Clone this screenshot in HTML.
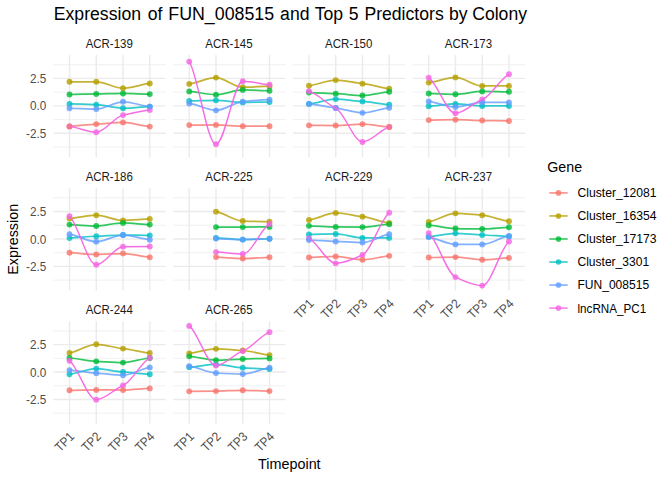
<!DOCTYPE html>
<html><head><meta charset="utf-8"><title>Expression plot</title>
<style>html,body{margin:0;padding:0;background:#fff}body{width:672px;height:480px;overflow:hidden}</style></head>
<body>
<svg width="672" height="480" viewBox="0 0 672 480" style="display:block;font-family:'Liberation Sans',sans-serif">
<rect width="672" height="480" fill="#fff"/>
<text transform="translate(53.80,20.10) scale(1.0023,1.0000)" font-size="17.6" fill="#000" text-anchor="start">Expression</text>
<text transform="translate(147.80,20.10)" font-size="17.6" fill="#000" text-anchor="start">of</text>
<text transform="translate(168.29,20.10) scale(1.0117,1.0000)" font-size="17.6" fill="#000" text-anchor="start">FUN_008515</text>
<text transform="translate(280.10,20.10)" font-size="17.6" fill="#000" text-anchor="start">and</text>
<text transform="translate(314.75,20.10)" font-size="17.6" fill="#000" text-anchor="start">Top</text>
<text transform="translate(348.85,20.10)" font-size="17.6" fill="#000" text-anchor="start">5</text>
<text transform="translate(364.40,20.10) scale(1.0013,1.0000)" font-size="17.6" fill="#000" text-anchor="start">Predictors</text>
<text transform="translate(449.00,20.10)" font-size="17.6" fill="#000" text-anchor="start">by</text>
<text transform="translate(472.20,20.10)" font-size="17.6" fill="#000" text-anchor="start">Colony</text>
<g>
<line x1="53.44" x2="165.84" y1="64.69" y2="64.69" stroke="#EBEBEB" stroke-width="0.71"/>
<line x1="53.44" x2="165.84" y1="92.13" y2="92.13" stroke="#EBEBEB" stroke-width="0.71"/>
<line x1="53.44" x2="165.84" y1="119.57" y2="119.57" stroke="#EBEBEB" stroke-width="0.71"/>
<line x1="53.44" x2="165.84" y1="147.01" y2="147.01" stroke="#EBEBEB" stroke-width="0.71"/>
<line x1="53.44" x2="165.84" y1="78.41" y2="78.41" stroke="#EBEBEB" stroke-width="1.42"/>
<line x1="53.44" x2="165.84" y1="105.85" y2="105.85" stroke="#EBEBEB" stroke-width="1.42"/>
<line x1="53.44" x2="165.84" y1="133.29" y2="133.29" stroke="#EBEBEB" stroke-width="1.42"/>
<line x1="69.50" x2="69.50" y1="55.00" y2="157.25" stroke="#EBEBEB" stroke-width="1.42"/>
<line x1="96.26" x2="96.26" y1="55.00" y2="157.25" stroke="#EBEBEB" stroke-width="1.42"/>
<line x1="123.02" x2="123.02" y1="55.00" y2="157.25" stroke="#EBEBEB" stroke-width="1.42"/>
<line x1="149.78" x2="149.78" y1="55.00" y2="157.25" stroke="#EBEBEB" stroke-width="1.42"/>
<text transform="translate(109.24,47.70) scale(0.9800,1.0900)" font-size="11.73" fill="#1A1A1A" text-anchor="middle">ACR-139</text>
<path d="M69.50 126.38 C78.42 125.99 87.34 124.41 96.26 124.08 C105.18 123.75 114.10 122.42 123.02 122.42 C131.94 122.42 140.86 125.89 149.78 126.58" fill="none" stroke="#F8766D" stroke-opacity="0.8" stroke-width="1.75" stroke-linejoin="round" stroke-linecap="butt"/>
<path d="M69.50 81.79 C78.42 81.79 87.34 81.79 96.26 81.79 C105.18 81.79 114.10 88.25 123.02 88.25 C131.94 88.25 140.86 84.26 149.78 83.46" fill="none" stroke="#B79F00" stroke-opacity="0.8" stroke-width="1.75" stroke-linejoin="round" stroke-linecap="butt"/>
<path d="M69.50 94.50 C78.42 94.40 87.34 93.96 96.26 93.88 C105.18 93.79 114.10 93.46 123.02 93.46 C131.94 93.46 140.86 93.98 149.78 94.08" fill="none" stroke="#00BA38" stroke-opacity="0.8" stroke-width="1.75" stroke-linejoin="round" stroke-linecap="butt"/>
<path d="M69.50 103.88 C78.42 104.01 87.34 104.34 96.26 104.71 C105.18 105.07 114.10 108.25 123.02 108.25 C131.94 108.25 140.86 106.86 149.78 106.58" fill="none" stroke="#00BFC4" stroke-opacity="0.8" stroke-width="1.75" stroke-linejoin="round" stroke-linecap="butt"/>
<path d="M69.50 108.25 C78.42 108.39 87.34 109.08 96.26 109.08 C105.18 109.08 114.10 101.79 123.02 101.79 C131.94 101.79 140.86 105.78 149.78 106.58" fill="none" stroke="#619CFF" stroke-opacity="0.8" stroke-width="1.75" stroke-linejoin="round" stroke-linecap="butt"/>
<circle cx="69.50" cy="81.79" r="2.95" fill="#B79F00" fill-opacity="0.8"/>
<circle cx="96.26" cy="81.79" r="2.95" fill="#B79F00" fill-opacity="0.8"/>
<circle cx="123.02" cy="88.25" r="2.95" fill="#B79F00" fill-opacity="0.8"/>
<circle cx="149.78" cy="83.46" r="2.95" fill="#B79F00" fill-opacity="0.8"/>
<circle cx="69.50" cy="94.50" r="2.95" fill="#00BA38" fill-opacity="0.8"/>
<circle cx="96.26" cy="93.88" r="2.95" fill="#00BA38" fill-opacity="0.8"/>
<circle cx="123.02" cy="93.46" r="2.95" fill="#00BA38" fill-opacity="0.8"/>
<circle cx="149.78" cy="94.08" r="2.95" fill="#00BA38" fill-opacity="0.8"/>
<circle cx="69.50" cy="103.88" r="2.95" fill="#00BFC4" fill-opacity="0.8"/>
<circle cx="96.26" cy="104.71" r="2.95" fill="#00BFC4" fill-opacity="0.8"/>
<circle cx="123.02" cy="108.25" r="2.95" fill="#00BFC4" fill-opacity="0.8"/>
<circle cx="149.78" cy="106.58" r="2.95" fill="#00BFC4" fill-opacity="0.8"/>
<circle cx="69.50" cy="126.38" r="2.95" fill="#F564E3" fill-opacity="0.8"/>
<circle cx="96.26" cy="132.21" r="2.95" fill="#F564E3" fill-opacity="0.8"/>
<circle cx="123.02" cy="115.12" r="2.95" fill="#F564E3" fill-opacity="0.8"/>
<circle cx="149.78" cy="109.92" r="2.95" fill="#F564E3" fill-opacity="0.8"/>
<circle cx="69.50" cy="126.38" r="2.95" fill="#F8766D" fill-opacity="0.8"/>
<circle cx="96.26" cy="124.08" r="2.95" fill="#F8766D" fill-opacity="0.8"/>
<circle cx="123.02" cy="122.42" r="2.95" fill="#F8766D" fill-opacity="0.8"/>
<circle cx="149.78" cy="126.58" r="2.95" fill="#F8766D" fill-opacity="0.8"/>
<circle cx="69.50" cy="108.25" r="2.95" fill="#619CFF" fill-opacity="0.8"/>
<circle cx="96.26" cy="109.08" r="2.95" fill="#619CFF" fill-opacity="0.8"/>
<circle cx="123.02" cy="101.79" r="2.95" fill="#619CFF" fill-opacity="0.8"/>
<circle cx="149.78" cy="106.58" r="2.95" fill="#619CFF" fill-opacity="0.8"/>
<path d="M69.50 126.38 C78.42 127.35 87.34 132.21 96.26 132.21 C105.18 132.21 114.10 116.98 123.02 115.12 C131.94 113.27 140.86 110.78 149.78 109.92" fill="none" stroke="#F564E3" stroke-opacity="0.95" stroke-width="1.42" stroke-linejoin="round" stroke-linecap="butt"/>
<text transform="translate(46.30,83.01) scale(1.0000,1.1200)" font-size="11.73" fill="#4D4D4D" text-anchor="end">2.5</text>
<text transform="translate(46.30,110.45) scale(1.0000,1.1200)" font-size="11.73" fill="#4D4D4D" text-anchor="end">0.0</text>
<text transform="translate(46.30,137.89) scale(1.0000,1.1200)" font-size="11.73" fill="#4D4D4D" text-anchor="end">-2.5</text>
</g>
<g>
<line x1="173.17" x2="285.57" y1="64.69" y2="64.69" stroke="#EBEBEB" stroke-width="0.71"/>
<line x1="173.17" x2="285.57" y1="92.13" y2="92.13" stroke="#EBEBEB" stroke-width="0.71"/>
<line x1="173.17" x2="285.57" y1="119.57" y2="119.57" stroke="#EBEBEB" stroke-width="0.71"/>
<line x1="173.17" x2="285.57" y1="147.01" y2="147.01" stroke="#EBEBEB" stroke-width="0.71"/>
<line x1="173.17" x2="285.57" y1="78.41" y2="78.41" stroke="#EBEBEB" stroke-width="1.42"/>
<line x1="173.17" x2="285.57" y1="105.85" y2="105.85" stroke="#EBEBEB" stroke-width="1.42"/>
<line x1="173.17" x2="285.57" y1="133.29" y2="133.29" stroke="#EBEBEB" stroke-width="1.42"/>
<line x1="189.23" x2="189.23" y1="55.00" y2="157.25" stroke="#EBEBEB" stroke-width="1.42"/>
<line x1="215.99" x2="215.99" y1="55.00" y2="157.25" stroke="#EBEBEB" stroke-width="1.42"/>
<line x1="242.75" x2="242.75" y1="55.00" y2="157.25" stroke="#EBEBEB" stroke-width="1.42"/>
<line x1="269.51" x2="269.51" y1="55.00" y2="157.25" stroke="#EBEBEB" stroke-width="1.42"/>
<text transform="translate(228.97,47.70) scale(0.9800,1.0900)" font-size="11.73" fill="#1A1A1A" text-anchor="middle">ACR-145</text>
<path d="M189.23 125.12 C198.15 125.09 207.07 124.92 215.99 124.92 C224.91 124.92 233.83 126.17 242.75 126.17 C251.67 126.17 260.59 126.17 269.51 126.17" fill="none" stroke="#F8766D" stroke-opacity="0.8" stroke-width="1.75" stroke-linejoin="round" stroke-linecap="butt"/>
<path d="M189.23 83.88 C198.15 82.83 207.07 77.62 215.99 77.62 C224.91 77.62 233.83 87.21 242.75 87.21 C251.67 87.21 260.59 86.34 269.51 86.17" fill="none" stroke="#B79F00" stroke-opacity="0.8" stroke-width="1.75" stroke-linejoin="round" stroke-linecap="butt"/>
<path d="M189.23 91.38 C198.15 91.93 207.07 94.71 215.99 94.71 C224.91 94.71 233.83 89.92 242.75 89.92 C251.67 89.92 260.59 90.61 269.51 90.75" fill="none" stroke="#00BA38" stroke-opacity="0.8" stroke-width="1.75" stroke-linejoin="round" stroke-linecap="butt"/>
<path d="M189.23 100.96 C198.15 100.85 207.07 100.33 215.99 100.33 C224.91 100.33 233.83 102.42 242.75 102.42 C251.67 102.42 260.59 102.07 269.51 102.00" fill="none" stroke="#00BFC4" stroke-opacity="0.8" stroke-width="1.75" stroke-linejoin="round" stroke-linecap="butt"/>
<path d="M189.23 103.46 C198.15 104.60 207.07 110.33 215.99 110.33 C224.91 110.33 233.83 102.47 242.75 101.58 C251.67 100.70 260.59 100.02 269.51 99.71" fill="none" stroke="#619CFF" stroke-opacity="0.8" stroke-width="1.75" stroke-linejoin="round" stroke-linecap="butt"/>
<circle cx="189.23" cy="83.88" r="2.95" fill="#B79F00" fill-opacity="0.8"/>
<circle cx="215.99" cy="77.62" r="2.95" fill="#B79F00" fill-opacity="0.8"/>
<circle cx="242.75" cy="87.21" r="2.95" fill="#B79F00" fill-opacity="0.8"/>
<circle cx="269.51" cy="86.17" r="2.95" fill="#B79F00" fill-opacity="0.8"/>
<circle cx="189.23" cy="91.38" r="2.95" fill="#00BA38" fill-opacity="0.8"/>
<circle cx="215.99" cy="94.71" r="2.95" fill="#00BA38" fill-opacity="0.8"/>
<circle cx="242.75" cy="89.92" r="2.95" fill="#00BA38" fill-opacity="0.8"/>
<circle cx="269.51" cy="90.75" r="2.95" fill="#00BA38" fill-opacity="0.8"/>
<circle cx="189.23" cy="100.96" r="2.95" fill="#00BFC4" fill-opacity="0.8"/>
<circle cx="215.99" cy="100.33" r="2.95" fill="#00BFC4" fill-opacity="0.8"/>
<circle cx="242.75" cy="102.42" r="2.95" fill="#00BFC4" fill-opacity="0.8"/>
<circle cx="269.51" cy="102.00" r="2.95" fill="#00BFC4" fill-opacity="0.8"/>
<circle cx="189.23" cy="61.58" r="2.95" fill="#F564E3" fill-opacity="0.8"/>
<circle cx="215.99" cy="144.29" r="2.95" fill="#F564E3" fill-opacity="0.8"/>
<circle cx="242.75" cy="81.17" r="2.95" fill="#F564E3" fill-opacity="0.8"/>
<circle cx="269.51" cy="84.71" r="2.95" fill="#F564E3" fill-opacity="0.8"/>
<circle cx="189.23" cy="125.12" r="2.95" fill="#F8766D" fill-opacity="0.8"/>
<circle cx="215.99" cy="124.92" r="2.95" fill="#F8766D" fill-opacity="0.8"/>
<circle cx="242.75" cy="126.17" r="2.95" fill="#F8766D" fill-opacity="0.8"/>
<circle cx="269.51" cy="126.17" r="2.95" fill="#F8766D" fill-opacity="0.8"/>
<circle cx="189.23" cy="103.46" r="2.95" fill="#619CFF" fill-opacity="0.8"/>
<circle cx="215.99" cy="110.33" r="2.95" fill="#619CFF" fill-opacity="0.8"/>
<circle cx="242.75" cy="101.58" r="2.95" fill="#619CFF" fill-opacity="0.8"/>
<circle cx="269.51" cy="99.71" r="2.95" fill="#619CFF" fill-opacity="0.8"/>
<path d="M189.23 61.58 C198.15 75.37 207.07 144.29 215.99 144.29 C224.91 144.29 233.83 81.17 242.75 81.17 C251.67 81.17 260.59 84.12 269.51 84.71" fill="none" stroke="#F564E3" stroke-opacity="0.95" stroke-width="1.42" stroke-linejoin="round" stroke-linecap="butt"/>
</g>
<g>
<line x1="292.90" x2="405.30" y1="64.69" y2="64.69" stroke="#EBEBEB" stroke-width="0.71"/>
<line x1="292.90" x2="405.30" y1="92.13" y2="92.13" stroke="#EBEBEB" stroke-width="0.71"/>
<line x1="292.90" x2="405.30" y1="119.57" y2="119.57" stroke="#EBEBEB" stroke-width="0.71"/>
<line x1="292.90" x2="405.30" y1="147.01" y2="147.01" stroke="#EBEBEB" stroke-width="0.71"/>
<line x1="292.90" x2="405.30" y1="78.41" y2="78.41" stroke="#EBEBEB" stroke-width="1.42"/>
<line x1="292.90" x2="405.30" y1="105.85" y2="105.85" stroke="#EBEBEB" stroke-width="1.42"/>
<line x1="292.90" x2="405.30" y1="133.29" y2="133.29" stroke="#EBEBEB" stroke-width="1.42"/>
<line x1="308.96" x2="308.96" y1="55.00" y2="157.25" stroke="#EBEBEB" stroke-width="1.42"/>
<line x1="335.72" x2="335.72" y1="55.00" y2="157.25" stroke="#EBEBEB" stroke-width="1.42"/>
<line x1="362.48" x2="362.48" y1="55.00" y2="157.25" stroke="#EBEBEB" stroke-width="1.42"/>
<line x1="389.24" x2="389.24" y1="55.00" y2="157.25" stroke="#EBEBEB" stroke-width="1.42"/>
<text transform="translate(348.70,47.70) scale(0.9800,1.0900)" font-size="11.73" fill="#1A1A1A" text-anchor="middle">ACR-150</text>
<path d="M308.96 125.33 C317.88 125.37 326.80 125.54 335.72 125.54 C344.64 125.54 353.56 124.08 362.48 124.08 C371.40 124.08 380.32 126.51 389.24 127.00" fill="none" stroke="#F8766D" stroke-opacity="0.8" stroke-width="1.75" stroke-linejoin="round" stroke-linecap="butt"/>
<path d="M308.96 85.75 C317.88 84.81 326.80 80.12 335.72 80.12 C344.64 80.12 353.56 82.95 362.48 83.67 C371.40 84.38 380.32 87.83 389.24 88.67" fill="none" stroke="#B79F00" stroke-opacity="0.8" stroke-width="1.75" stroke-linejoin="round" stroke-linecap="butt"/>
<path d="M308.96 92.62 C317.88 92.80 326.80 93.42 335.72 93.67 C344.64 93.91 353.56 95.54 362.48 95.54 C371.40 95.54 380.32 92.42 389.24 91.79" fill="none" stroke="#00BA38" stroke-opacity="0.8" stroke-width="1.75" stroke-linejoin="round" stroke-linecap="butt"/>
<path d="M308.96 103.88 C317.88 103.08 326.80 99.08 335.72 99.08 C344.64 99.08 353.56 100.91 362.48 101.38 C371.40 101.84 380.32 104.15 389.24 104.71" fill="none" stroke="#00BFC4" stroke-opacity="0.8" stroke-width="1.75" stroke-linejoin="round" stroke-linecap="butt"/>
<path d="M308.96 103.88 C317.88 104.57 326.80 107.30 335.72 108.04 C344.64 108.79 353.56 112.83 362.48 112.83 C371.40 112.83 380.32 108.67 389.24 107.83" fill="none" stroke="#619CFF" stroke-opacity="0.8" stroke-width="1.75" stroke-linejoin="round" stroke-linecap="butt"/>
<circle cx="308.96" cy="85.75" r="2.95" fill="#B79F00" fill-opacity="0.8"/>
<circle cx="335.72" cy="80.12" r="2.95" fill="#B79F00" fill-opacity="0.8"/>
<circle cx="362.48" cy="83.67" r="2.95" fill="#B79F00" fill-opacity="0.8"/>
<circle cx="389.24" cy="88.67" r="2.95" fill="#B79F00" fill-opacity="0.8"/>
<circle cx="308.96" cy="92.62" r="2.95" fill="#00BA38" fill-opacity="0.8"/>
<circle cx="335.72" cy="93.67" r="2.95" fill="#00BA38" fill-opacity="0.8"/>
<circle cx="362.48" cy="95.54" r="2.95" fill="#00BA38" fill-opacity="0.8"/>
<circle cx="389.24" cy="91.79" r="2.95" fill="#00BA38" fill-opacity="0.8"/>
<circle cx="308.96" cy="103.88" r="2.95" fill="#00BFC4" fill-opacity="0.8"/>
<circle cx="335.72" cy="99.08" r="2.95" fill="#00BFC4" fill-opacity="0.8"/>
<circle cx="362.48" cy="101.38" r="2.95" fill="#00BFC4" fill-opacity="0.8"/>
<circle cx="389.24" cy="104.71" r="2.95" fill="#00BFC4" fill-opacity="0.8"/>
<circle cx="308.96" cy="91.17" r="2.95" fill="#F564E3" fill-opacity="0.8"/>
<circle cx="335.72" cy="108.04" r="2.95" fill="#F564E3" fill-opacity="0.8"/>
<circle cx="362.48" cy="142.00" r="2.95" fill="#F564E3" fill-opacity="0.8"/>
<circle cx="389.24" cy="127.00" r="2.95" fill="#F564E3" fill-opacity="0.8"/>
<circle cx="308.96" cy="125.33" r="2.95" fill="#F8766D" fill-opacity="0.8"/>
<circle cx="335.72" cy="125.54" r="2.95" fill="#F8766D" fill-opacity="0.8"/>
<circle cx="362.48" cy="124.08" r="2.95" fill="#F8766D" fill-opacity="0.8"/>
<circle cx="389.24" cy="127.00" r="2.95" fill="#F8766D" fill-opacity="0.8"/>
<circle cx="308.96" cy="103.88" r="2.95" fill="#619CFF" fill-opacity="0.8"/>
<circle cx="335.72" cy="108.04" r="2.95" fill="#619CFF" fill-opacity="0.8"/>
<circle cx="362.48" cy="112.83" r="2.95" fill="#619CFF" fill-opacity="0.8"/>
<circle cx="389.24" cy="107.83" r="2.95" fill="#619CFF" fill-opacity="0.8"/>
<path d="M308.96 91.17 C317.88 93.98 326.80 103.81 335.72 108.04 C344.64 112.28 353.56 142.00 362.48 142.00 C371.40 142.00 380.32 129.50 389.24 127.00" fill="none" stroke="#F564E3" stroke-opacity="0.95" stroke-width="1.42" stroke-linejoin="round" stroke-linecap="butt"/>
</g>
<g>
<line x1="412.63" x2="525.03" y1="64.69" y2="64.69" stroke="#EBEBEB" stroke-width="0.71"/>
<line x1="412.63" x2="525.03" y1="92.13" y2="92.13" stroke="#EBEBEB" stroke-width="0.71"/>
<line x1="412.63" x2="525.03" y1="119.57" y2="119.57" stroke="#EBEBEB" stroke-width="0.71"/>
<line x1="412.63" x2="525.03" y1="147.01" y2="147.01" stroke="#EBEBEB" stroke-width="0.71"/>
<line x1="412.63" x2="525.03" y1="78.41" y2="78.41" stroke="#EBEBEB" stroke-width="1.42"/>
<line x1="412.63" x2="525.03" y1="105.85" y2="105.85" stroke="#EBEBEB" stroke-width="1.42"/>
<line x1="412.63" x2="525.03" y1="133.29" y2="133.29" stroke="#EBEBEB" stroke-width="1.42"/>
<line x1="428.69" x2="428.69" y1="55.00" y2="157.25" stroke="#EBEBEB" stroke-width="1.42"/>
<line x1="455.45" x2="455.45" y1="55.00" y2="157.25" stroke="#EBEBEB" stroke-width="1.42"/>
<line x1="482.21" x2="482.21" y1="55.00" y2="157.25" stroke="#EBEBEB" stroke-width="1.42"/>
<line x1="508.97" x2="508.97" y1="55.00" y2="157.25" stroke="#EBEBEB" stroke-width="1.42"/>
<text transform="translate(468.43,47.70) scale(0.9800,1.0900)" font-size="11.73" fill="#1A1A1A" text-anchor="middle">ACR-173</text>
<path d="M428.69 120.12 C437.61 120.06 446.53 119.71 455.45 119.71 C464.37 119.71 473.29 120.44 482.21 120.54 C491.13 120.65 500.05 120.89 508.97 120.96" fill="none" stroke="#F8766D" stroke-opacity="0.8" stroke-width="1.75" stroke-linejoin="round" stroke-linecap="butt"/>
<path d="M428.69 82.62 C437.61 81.76 446.53 77.42 455.45 77.42 C464.37 77.42 473.29 85.96 482.21 85.96 C491.13 85.96 500.05 85.96 508.97 85.96" fill="none" stroke="#B79F00" stroke-opacity="0.8" stroke-width="1.75" stroke-linejoin="round" stroke-linecap="butt"/>
<path d="M428.69 93.46 C437.61 93.60 446.53 94.29 455.45 94.29 C464.37 94.29 473.29 91.38 482.21 91.38 C491.13 91.38 500.05 91.72 508.97 91.79" fill="none" stroke="#00BA38" stroke-opacity="0.8" stroke-width="1.75" stroke-linejoin="round" stroke-linecap="butt"/>
<path d="M428.69 106.17 C437.61 105.78 446.53 103.88 455.45 103.88 C464.37 103.88 473.29 105.96 482.21 105.96 C491.13 105.96 500.05 105.96 508.97 105.96" fill="none" stroke="#00BFC4" stroke-opacity="0.8" stroke-width="1.75" stroke-linejoin="round" stroke-linecap="butt"/>
<path d="M428.69 101.38 C437.61 102.31 446.53 107.00 455.45 107.00 C464.37 107.00 473.29 102.42 482.21 102.42 C491.13 102.42 500.05 102.42 508.97 102.42" fill="none" stroke="#619CFF" stroke-opacity="0.8" stroke-width="1.75" stroke-linejoin="round" stroke-linecap="butt"/>
<circle cx="428.69" cy="82.62" r="2.95" fill="#B79F00" fill-opacity="0.8"/>
<circle cx="455.45" cy="77.42" r="2.95" fill="#B79F00" fill-opacity="0.8"/>
<circle cx="482.21" cy="85.96" r="2.95" fill="#B79F00" fill-opacity="0.8"/>
<circle cx="508.97" cy="85.96" r="2.95" fill="#B79F00" fill-opacity="0.8"/>
<circle cx="428.69" cy="93.46" r="2.95" fill="#00BA38" fill-opacity="0.8"/>
<circle cx="455.45" cy="94.29" r="2.95" fill="#00BA38" fill-opacity="0.8"/>
<circle cx="482.21" cy="91.38" r="2.95" fill="#00BA38" fill-opacity="0.8"/>
<circle cx="508.97" cy="91.79" r="2.95" fill="#00BA38" fill-opacity="0.8"/>
<circle cx="428.69" cy="106.17" r="2.95" fill="#00BFC4" fill-opacity="0.8"/>
<circle cx="455.45" cy="103.88" r="2.95" fill="#00BFC4" fill-opacity="0.8"/>
<circle cx="482.21" cy="105.96" r="2.95" fill="#00BFC4" fill-opacity="0.8"/>
<circle cx="508.97" cy="105.96" r="2.95" fill="#00BFC4" fill-opacity="0.8"/>
<circle cx="428.69" cy="77.62" r="2.95" fill="#F564E3" fill-opacity="0.8"/>
<circle cx="455.45" cy="113.25" r="2.95" fill="#F564E3" fill-opacity="0.8"/>
<circle cx="482.21" cy="99.50" r="2.95" fill="#F564E3" fill-opacity="0.8"/>
<circle cx="508.97" cy="74.29" r="2.95" fill="#F564E3" fill-opacity="0.8"/>
<circle cx="428.69" cy="120.12" r="2.95" fill="#F8766D" fill-opacity="0.8"/>
<circle cx="455.45" cy="119.71" r="2.95" fill="#F8766D" fill-opacity="0.8"/>
<circle cx="482.21" cy="120.54" r="2.95" fill="#F8766D" fill-opacity="0.8"/>
<circle cx="508.97" cy="120.96" r="2.95" fill="#F8766D" fill-opacity="0.8"/>
<circle cx="428.69" cy="101.38" r="2.95" fill="#619CFF" fill-opacity="0.8"/>
<circle cx="455.45" cy="107.00" r="2.95" fill="#619CFF" fill-opacity="0.8"/>
<circle cx="482.21" cy="102.42" r="2.95" fill="#619CFF" fill-opacity="0.8"/>
<circle cx="508.97" cy="102.42" r="2.95" fill="#619CFF" fill-opacity="0.8"/>
<path d="M428.69 77.62 C437.61 83.56 446.53 113.25 455.45 113.25 C464.37 113.25 473.29 102.75 482.21 99.50 C491.13 96.25 500.05 78.49 508.97 74.29" fill="none" stroke="#F564E3" stroke-opacity="0.95" stroke-width="1.42" stroke-linejoin="round" stroke-linecap="butt"/>
</g>
<g>
<line x1="53.44" x2="165.84" y1="197.79" y2="197.79" stroke="#EBEBEB" stroke-width="0.71"/>
<line x1="53.44" x2="165.84" y1="225.23" y2="225.23" stroke="#EBEBEB" stroke-width="0.71"/>
<line x1="53.44" x2="165.84" y1="252.67" y2="252.67" stroke="#EBEBEB" stroke-width="0.71"/>
<line x1="53.44" x2="165.84" y1="280.11" y2="280.11" stroke="#EBEBEB" stroke-width="0.71"/>
<line x1="53.44" x2="165.84" y1="211.51" y2="211.51" stroke="#EBEBEB" stroke-width="1.42"/>
<line x1="53.44" x2="165.84" y1="238.95" y2="238.95" stroke="#EBEBEB" stroke-width="1.42"/>
<line x1="53.44" x2="165.84" y1="266.39" y2="266.39" stroke="#EBEBEB" stroke-width="1.42"/>
<line x1="69.50" x2="69.50" y1="188.25" y2="290.50" stroke="#EBEBEB" stroke-width="1.42"/>
<line x1="96.26" x2="96.26" y1="188.25" y2="290.50" stroke="#EBEBEB" stroke-width="1.42"/>
<line x1="123.02" x2="123.02" y1="188.25" y2="290.50" stroke="#EBEBEB" stroke-width="1.42"/>
<line x1="149.78" x2="149.78" y1="188.25" y2="290.50" stroke="#EBEBEB" stroke-width="1.42"/>
<text transform="translate(109.24,180.95) scale(0.9800,1.0900)" font-size="11.73" fill="#1A1A1A" text-anchor="middle">ACR-186</text>
<path d="M69.50 252.71 C78.42 252.99 87.34 254.38 96.26 254.38 C105.18 254.38 114.10 253.54 123.02 253.54 C131.94 253.54 140.86 256.67 149.78 257.29" fill="none" stroke="#F8766D" stroke-opacity="0.8" stroke-width="1.75" stroke-linejoin="round" stroke-linecap="butt"/>
<path d="M69.50 218.54 C78.42 217.99 87.34 215.21 96.26 215.21 C105.18 215.21 114.10 220.42 123.02 220.42 C131.94 220.42 140.86 219.20 149.78 218.96" fill="none" stroke="#B79F00" stroke-opacity="0.8" stroke-width="1.75" stroke-linejoin="round" stroke-linecap="butt"/>
<path d="M69.50 224.58 C78.42 224.83 87.34 226.04 96.26 226.04 C105.18 226.04 114.10 222.92 123.02 222.92 C131.94 222.92 140.86 224.31 149.78 224.58" fill="none" stroke="#00BA38" stroke-opacity="0.8" stroke-width="1.75" stroke-linejoin="round" stroke-linecap="butt"/>
<path d="M69.50 238.12 C78.42 237.81 87.34 236.51 96.26 236.25 C105.18 235.99 114.10 235.00 123.02 235.00 C131.94 235.00 140.86 235.35 149.78 235.42" fill="none" stroke="#00BFC4" stroke-opacity="0.8" stroke-width="1.75" stroke-linejoin="round" stroke-linecap="butt"/>
<path d="M69.50 234.17 C78.42 235.42 87.34 241.67 96.26 241.67 C105.18 241.67 114.10 235.00 123.02 235.00 C131.94 235.00 140.86 238.99 149.78 239.79" fill="none" stroke="#619CFF" stroke-opacity="0.8" stroke-width="1.75" stroke-linejoin="round" stroke-linecap="butt"/>
<circle cx="69.50" cy="218.54" r="2.95" fill="#B79F00" fill-opacity="0.8"/>
<circle cx="96.26" cy="215.21" r="2.95" fill="#B79F00" fill-opacity="0.8"/>
<circle cx="123.02" cy="220.42" r="2.95" fill="#B79F00" fill-opacity="0.8"/>
<circle cx="149.78" cy="218.96" r="2.95" fill="#B79F00" fill-opacity="0.8"/>
<circle cx="69.50" cy="224.58" r="2.95" fill="#00BA38" fill-opacity="0.8"/>
<circle cx="96.26" cy="226.04" r="2.95" fill="#00BA38" fill-opacity="0.8"/>
<circle cx="123.02" cy="222.92" r="2.95" fill="#00BA38" fill-opacity="0.8"/>
<circle cx="149.78" cy="224.58" r="2.95" fill="#00BA38" fill-opacity="0.8"/>
<circle cx="69.50" cy="238.12" r="2.95" fill="#00BFC4" fill-opacity="0.8"/>
<circle cx="96.26" cy="236.25" r="2.95" fill="#00BFC4" fill-opacity="0.8"/>
<circle cx="123.02" cy="235.00" r="2.95" fill="#00BFC4" fill-opacity="0.8"/>
<circle cx="149.78" cy="235.42" r="2.95" fill="#00BFC4" fill-opacity="0.8"/>
<circle cx="69.50" cy="216.25" r="2.95" fill="#F564E3" fill-opacity="0.8"/>
<circle cx="96.26" cy="264.79" r="2.95" fill="#F564E3" fill-opacity="0.8"/>
<circle cx="123.02" cy="246.67" r="2.95" fill="#F564E3" fill-opacity="0.8"/>
<circle cx="149.78" cy="246.46" r="2.95" fill="#F564E3" fill-opacity="0.8"/>
<circle cx="69.50" cy="252.71" r="2.95" fill="#F8766D" fill-opacity="0.8"/>
<circle cx="96.26" cy="254.38" r="2.95" fill="#F8766D" fill-opacity="0.8"/>
<circle cx="123.02" cy="253.54" r="2.95" fill="#F8766D" fill-opacity="0.8"/>
<circle cx="149.78" cy="257.29" r="2.95" fill="#F8766D" fill-opacity="0.8"/>
<circle cx="69.50" cy="234.17" r="2.95" fill="#619CFF" fill-opacity="0.8"/>
<circle cx="96.26" cy="241.67" r="2.95" fill="#619CFF" fill-opacity="0.8"/>
<circle cx="123.02" cy="235.00" r="2.95" fill="#619CFF" fill-opacity="0.8"/>
<circle cx="149.78" cy="239.79" r="2.95" fill="#619CFF" fill-opacity="0.8"/>
<path d="M69.50 216.25 C78.42 224.34 87.34 264.79 96.26 264.79 C105.18 264.79 114.10 246.77 123.02 246.67 C131.94 246.56 140.86 246.46 149.78 246.46" fill="none" stroke="#F564E3" stroke-opacity="0.95" stroke-width="1.42" stroke-linejoin="round" stroke-linecap="butt"/>
<text transform="translate(46.30,216.11) scale(1.0000,1.1200)" font-size="11.73" fill="#4D4D4D" text-anchor="end">2.5</text>
<text transform="translate(46.30,243.55) scale(1.0000,1.1200)" font-size="11.73" fill="#4D4D4D" text-anchor="end">0.0</text>
<text transform="translate(46.30,270.99) scale(1.0000,1.1200)" font-size="11.73" fill="#4D4D4D" text-anchor="end">-2.5</text>
</g>
<g>
<line x1="173.17" x2="285.57" y1="197.79" y2="197.79" stroke="#EBEBEB" stroke-width="0.71"/>
<line x1="173.17" x2="285.57" y1="225.23" y2="225.23" stroke="#EBEBEB" stroke-width="0.71"/>
<line x1="173.17" x2="285.57" y1="252.67" y2="252.67" stroke="#EBEBEB" stroke-width="0.71"/>
<line x1="173.17" x2="285.57" y1="280.11" y2="280.11" stroke="#EBEBEB" stroke-width="0.71"/>
<line x1="173.17" x2="285.57" y1="211.51" y2="211.51" stroke="#EBEBEB" stroke-width="1.42"/>
<line x1="173.17" x2="285.57" y1="238.95" y2="238.95" stroke="#EBEBEB" stroke-width="1.42"/>
<line x1="173.17" x2="285.57" y1="266.39" y2="266.39" stroke="#EBEBEB" stroke-width="1.42"/>
<line x1="189.23" x2="189.23" y1="188.25" y2="290.50" stroke="#EBEBEB" stroke-width="1.42"/>
<line x1="215.99" x2="215.99" y1="188.25" y2="290.50" stroke="#EBEBEB" stroke-width="1.42"/>
<line x1="242.75" x2="242.75" y1="188.25" y2="290.50" stroke="#EBEBEB" stroke-width="1.42"/>
<line x1="269.51" x2="269.51" y1="188.25" y2="290.50" stroke="#EBEBEB" stroke-width="1.42"/>
<text transform="translate(228.97,180.95) scale(0.9800,1.0900)" font-size="11.73" fill="#1A1A1A" text-anchor="middle">ACR-225</text>
<path d="M215.99 257.08 C224.91 257.33 233.83 258.54 242.75 258.54 C251.67 258.54 260.59 257.50 269.51 257.29" fill="none" stroke="#F8766D" stroke-opacity="0.8" stroke-width="1.75" stroke-linejoin="round" stroke-linecap="butt"/>
<path d="M215.99 211.67 C224.91 213.23 233.83 220.73 242.75 221.04 C251.67 221.35 260.59 221.63 269.51 221.67" fill="none" stroke="#B79F00" stroke-opacity="0.8" stroke-width="1.75" stroke-linejoin="round" stroke-linecap="butt"/>
<path d="M215.99 227.08 C224.91 227.08 233.83 227.08 242.75 227.08 C251.67 227.08 260.59 226.91 269.51 226.88" fill="none" stroke="#00BA38" stroke-opacity="0.8" stroke-width="1.75" stroke-linejoin="round" stroke-linecap="butt"/>
<path d="M215.99 237.92 C224.91 238.19 233.83 239.58 242.75 239.58 C251.67 239.58 260.59 238.89 269.51 238.75" fill="none" stroke="#00BFC4" stroke-opacity="0.8" stroke-width="1.75" stroke-linejoin="round" stroke-linecap="butt"/>
<path d="M215.99 238.54 C224.91 238.72 233.83 239.58 242.75 239.58 C251.67 239.58 260.59 238.89 269.51 238.75" fill="none" stroke="#619CFF" stroke-opacity="0.8" stroke-width="1.75" stroke-linejoin="round" stroke-linecap="butt"/>
<circle cx="215.99" cy="211.67" r="2.95" fill="#B79F00" fill-opacity="0.8"/>
<circle cx="242.75" cy="221.04" r="2.95" fill="#B79F00" fill-opacity="0.8"/>
<circle cx="269.51" cy="221.67" r="2.95" fill="#B79F00" fill-opacity="0.8"/>
<circle cx="215.99" cy="227.08" r="2.95" fill="#00BA38" fill-opacity="0.8"/>
<circle cx="242.75" cy="227.08" r="2.95" fill="#00BA38" fill-opacity="0.8"/>
<circle cx="269.51" cy="226.88" r="2.95" fill="#00BA38" fill-opacity="0.8"/>
<circle cx="215.99" cy="237.92" r="2.95" fill="#00BFC4" fill-opacity="0.8"/>
<circle cx="242.75" cy="239.58" r="2.95" fill="#00BFC4" fill-opacity="0.8"/>
<circle cx="269.51" cy="238.75" r="2.95" fill="#00BFC4" fill-opacity="0.8"/>
<circle cx="215.99" cy="252.08" r="2.95" fill="#F564E3" fill-opacity="0.8"/>
<circle cx="242.75" cy="253.96" r="2.95" fill="#F564E3" fill-opacity="0.8"/>
<circle cx="269.51" cy="223.96" r="2.95" fill="#F564E3" fill-opacity="0.8"/>
<circle cx="215.99" cy="257.08" r="2.95" fill="#F8766D" fill-opacity="0.8"/>
<circle cx="242.75" cy="258.54" r="2.95" fill="#F8766D" fill-opacity="0.8"/>
<circle cx="269.51" cy="257.29" r="2.95" fill="#F8766D" fill-opacity="0.8"/>
<circle cx="215.99" cy="238.54" r="2.95" fill="#619CFF" fill-opacity="0.8"/>
<circle cx="242.75" cy="239.58" r="2.95" fill="#619CFF" fill-opacity="0.8"/>
<circle cx="269.51" cy="238.75" r="2.95" fill="#619CFF" fill-opacity="0.8"/>
<path d="M215.99 252.08 C224.91 252.40 233.83 253.96 242.75 253.96 C251.67 253.96 260.59 228.96 269.51 223.96" fill="none" stroke="#F564E3" stroke-opacity="0.95" stroke-width="1.42" stroke-linejoin="round" stroke-linecap="butt"/>
</g>
<g>
<line x1="292.90" x2="405.30" y1="197.79" y2="197.79" stroke="#EBEBEB" stroke-width="0.71"/>
<line x1="292.90" x2="405.30" y1="225.23" y2="225.23" stroke="#EBEBEB" stroke-width="0.71"/>
<line x1="292.90" x2="405.30" y1="252.67" y2="252.67" stroke="#EBEBEB" stroke-width="0.71"/>
<line x1="292.90" x2="405.30" y1="280.11" y2="280.11" stroke="#EBEBEB" stroke-width="0.71"/>
<line x1="292.90" x2="405.30" y1="211.51" y2="211.51" stroke="#EBEBEB" stroke-width="1.42"/>
<line x1="292.90" x2="405.30" y1="238.95" y2="238.95" stroke="#EBEBEB" stroke-width="1.42"/>
<line x1="292.90" x2="405.30" y1="266.39" y2="266.39" stroke="#EBEBEB" stroke-width="1.42"/>
<line x1="308.96" x2="308.96" y1="188.25" y2="290.50" stroke="#EBEBEB" stroke-width="1.42"/>
<line x1="335.72" x2="335.72" y1="188.25" y2="290.50" stroke="#EBEBEB" stroke-width="1.42"/>
<line x1="362.48" x2="362.48" y1="188.25" y2="290.50" stroke="#EBEBEB" stroke-width="1.42"/>
<line x1="389.24" x2="389.24" y1="188.25" y2="290.50" stroke="#EBEBEB" stroke-width="1.42"/>
<text transform="translate(348.70,180.95) scale(0.9800,1.0900)" font-size="11.73" fill="#1A1A1A" text-anchor="middle">ACR-229</text>
<path d="M308.96 257.50 C317.88 257.33 326.80 256.46 335.72 256.46 C344.64 256.46 353.56 259.79 362.48 259.79 C371.40 259.79 380.32 256.49 389.24 255.83" fill="none" stroke="#F8766D" stroke-opacity="0.8" stroke-width="1.75" stroke-linejoin="round" stroke-linecap="butt"/>
<path d="M308.96 220.00 C317.88 218.82 326.80 212.92 335.72 212.92 C344.64 212.92 353.56 215.83 362.48 216.67 C371.40 217.50 380.32 221.88 389.24 222.92" fill="none" stroke="#B79F00" stroke-opacity="0.8" stroke-width="1.75" stroke-linejoin="round" stroke-linecap="butt"/>
<path d="M308.96 225.83 C317.88 226.01 326.80 226.77 335.72 226.88 C344.64 226.98 353.56 227.08 362.48 227.08 C371.40 227.08 380.32 224.65 389.24 224.17" fill="none" stroke="#00BA38" stroke-opacity="0.8" stroke-width="1.75" stroke-linejoin="round" stroke-linecap="butt"/>
<path d="M308.96 234.38 C317.88 234.31 326.80 233.96 335.72 233.96 C344.64 233.96 353.56 237.92 362.48 237.92 C371.40 237.92 380.32 237.92 389.24 237.92" fill="none" stroke="#00BFC4" stroke-opacity="0.8" stroke-width="1.75" stroke-linejoin="round" stroke-linecap="butt"/>
<path d="M308.96 240.00 C317.88 240.24 326.80 241.25 335.72 241.46 C344.64 241.67 353.56 242.50 362.48 242.50 C371.40 242.50 380.32 235.56 389.24 234.17" fill="none" stroke="#619CFF" stroke-opacity="0.8" stroke-width="1.75" stroke-linejoin="round" stroke-linecap="butt"/>
<circle cx="308.96" cy="220.00" r="2.95" fill="#B79F00" fill-opacity="0.8"/>
<circle cx="335.72" cy="212.92" r="2.95" fill="#B79F00" fill-opacity="0.8"/>
<circle cx="362.48" cy="216.67" r="2.95" fill="#B79F00" fill-opacity="0.8"/>
<circle cx="389.24" cy="222.92" r="2.95" fill="#B79F00" fill-opacity="0.8"/>
<circle cx="308.96" cy="225.83" r="2.95" fill="#00BA38" fill-opacity="0.8"/>
<circle cx="335.72" cy="226.88" r="2.95" fill="#00BA38" fill-opacity="0.8"/>
<circle cx="362.48" cy="227.08" r="2.95" fill="#00BA38" fill-opacity="0.8"/>
<circle cx="389.24" cy="224.17" r="2.95" fill="#00BA38" fill-opacity="0.8"/>
<circle cx="308.96" cy="234.38" r="2.95" fill="#00BFC4" fill-opacity="0.8"/>
<circle cx="335.72" cy="233.96" r="2.95" fill="#00BFC4" fill-opacity="0.8"/>
<circle cx="362.48" cy="237.92" r="2.95" fill="#00BFC4" fill-opacity="0.8"/>
<circle cx="389.24" cy="237.92" r="2.95" fill="#00BFC4" fill-opacity="0.8"/>
<circle cx="308.96" cy="238.33" r="2.95" fill="#F564E3" fill-opacity="0.8"/>
<circle cx="335.72" cy="263.33" r="2.95" fill="#F564E3" fill-opacity="0.8"/>
<circle cx="362.48" cy="255.00" r="2.95" fill="#F564E3" fill-opacity="0.8"/>
<circle cx="389.24" cy="212.71" r="2.95" fill="#F564E3" fill-opacity="0.8"/>
<circle cx="308.96" cy="257.50" r="2.95" fill="#F8766D" fill-opacity="0.8"/>
<circle cx="335.72" cy="256.46" r="2.95" fill="#F8766D" fill-opacity="0.8"/>
<circle cx="362.48" cy="259.79" r="2.95" fill="#F8766D" fill-opacity="0.8"/>
<circle cx="389.24" cy="255.83" r="2.95" fill="#F8766D" fill-opacity="0.8"/>
<circle cx="308.96" cy="240.00" r="2.95" fill="#619CFF" fill-opacity="0.8"/>
<circle cx="335.72" cy="241.46" r="2.95" fill="#619CFF" fill-opacity="0.8"/>
<circle cx="362.48" cy="242.50" r="2.95" fill="#619CFF" fill-opacity="0.8"/>
<circle cx="389.24" cy="234.17" r="2.95" fill="#619CFF" fill-opacity="0.8"/>
<path d="M308.96 238.33 C317.88 242.50 326.80 263.33 335.72 263.33 C344.64 263.33 353.56 259.17 362.48 255.00 C371.40 250.83 380.32 219.76 389.24 212.71" fill="none" stroke="#F564E3" stroke-opacity="0.95" stroke-width="1.42" stroke-linejoin="round" stroke-linecap="butt"/>
<text transform="translate(314.66,304.30) rotate(-45) scale(1.0000,1.1000)" font-size="11.73" fill="#4D4D4D" text-anchor="end">TP1</text>
<text transform="translate(341.42,304.30) rotate(-45) scale(1.0000,1.1000)" font-size="11.73" fill="#4D4D4D" text-anchor="end">TP2</text>
<text transform="translate(368.18,304.30) rotate(-45) scale(1.0000,1.1000)" font-size="11.73" fill="#4D4D4D" text-anchor="end">TP3</text>
<text transform="translate(394.94,304.30) rotate(-45) scale(1.0000,1.1000)" font-size="11.73" fill="#4D4D4D" text-anchor="end">TP4</text>
</g>
<g>
<line x1="412.63" x2="525.03" y1="197.79" y2="197.79" stroke="#EBEBEB" stroke-width="0.71"/>
<line x1="412.63" x2="525.03" y1="225.23" y2="225.23" stroke="#EBEBEB" stroke-width="0.71"/>
<line x1="412.63" x2="525.03" y1="252.67" y2="252.67" stroke="#EBEBEB" stroke-width="0.71"/>
<line x1="412.63" x2="525.03" y1="280.11" y2="280.11" stroke="#EBEBEB" stroke-width="0.71"/>
<line x1="412.63" x2="525.03" y1="211.51" y2="211.51" stroke="#EBEBEB" stroke-width="1.42"/>
<line x1="412.63" x2="525.03" y1="238.95" y2="238.95" stroke="#EBEBEB" stroke-width="1.42"/>
<line x1="412.63" x2="525.03" y1="266.39" y2="266.39" stroke="#EBEBEB" stroke-width="1.42"/>
<line x1="428.69" x2="428.69" y1="188.25" y2="290.50" stroke="#EBEBEB" stroke-width="1.42"/>
<line x1="455.45" x2="455.45" y1="188.25" y2="290.50" stroke="#EBEBEB" stroke-width="1.42"/>
<line x1="482.21" x2="482.21" y1="188.25" y2="290.50" stroke="#EBEBEB" stroke-width="1.42"/>
<line x1="508.97" x2="508.97" y1="188.25" y2="290.50" stroke="#EBEBEB" stroke-width="1.42"/>
<text transform="translate(468.43,180.95) scale(0.9800,1.0900)" font-size="11.73" fill="#1A1A1A" text-anchor="middle">ACR-237</text>
<path d="M428.69 257.50 C437.61 257.43 446.53 257.08 455.45 257.08 C464.37 257.08 473.29 259.79 482.21 259.79 C491.13 259.79 500.05 258.23 508.97 257.92" fill="none" stroke="#F8766D" stroke-opacity="0.8" stroke-width="1.75" stroke-linejoin="round" stroke-linecap="butt"/>
<path d="M428.69 221.88 C437.61 220.45 446.53 213.33 455.45 213.33 C464.37 213.33 473.29 214.55 482.21 215.21 C491.13 215.87 500.05 220.24 508.97 221.25" fill="none" stroke="#B79F00" stroke-opacity="0.8" stroke-width="1.75" stroke-linejoin="round" stroke-linecap="butt"/>
<path d="M428.69 225.21 C437.61 225.76 446.53 228.33 455.45 228.54 C464.37 228.75 473.29 228.96 482.21 228.96 C491.13 228.96 500.05 227.57 508.97 227.29" fill="none" stroke="#00BA38" stroke-opacity="0.8" stroke-width="1.75" stroke-linejoin="round" stroke-linecap="butt"/>
<path d="M428.69 236.67 C437.61 236.11 446.53 233.33 455.45 233.33 C464.37 233.33 473.29 234.74 482.21 235.00 C491.13 235.26 500.05 236.22 508.97 236.46" fill="none" stroke="#00BFC4" stroke-opacity="0.8" stroke-width="1.75" stroke-linejoin="round" stroke-linecap="butt"/>
<path d="M428.69 237.08 C437.61 238.30 446.53 244.38 455.45 244.38 C464.37 244.38 473.29 244.38 482.21 244.38 C491.13 244.38 500.05 237.26 508.97 235.83" fill="none" stroke="#619CFF" stroke-opacity="0.8" stroke-width="1.75" stroke-linejoin="round" stroke-linecap="butt"/>
<circle cx="428.69" cy="221.88" r="2.95" fill="#B79F00" fill-opacity="0.8"/>
<circle cx="455.45" cy="213.33" r="2.95" fill="#B79F00" fill-opacity="0.8"/>
<circle cx="482.21" cy="215.21" r="2.95" fill="#B79F00" fill-opacity="0.8"/>
<circle cx="508.97" cy="221.25" r="2.95" fill="#B79F00" fill-opacity="0.8"/>
<circle cx="428.69" cy="225.21" r="2.95" fill="#00BA38" fill-opacity="0.8"/>
<circle cx="455.45" cy="228.54" r="2.95" fill="#00BA38" fill-opacity="0.8"/>
<circle cx="482.21" cy="228.96" r="2.95" fill="#00BA38" fill-opacity="0.8"/>
<circle cx="508.97" cy="227.29" r="2.95" fill="#00BA38" fill-opacity="0.8"/>
<circle cx="428.69" cy="236.67" r="2.95" fill="#00BFC4" fill-opacity="0.8"/>
<circle cx="455.45" cy="233.33" r="2.95" fill="#00BFC4" fill-opacity="0.8"/>
<circle cx="482.21" cy="235.00" r="2.95" fill="#00BFC4" fill-opacity="0.8"/>
<circle cx="508.97" cy="236.46" r="2.95" fill="#00BFC4" fill-opacity="0.8"/>
<circle cx="428.69" cy="233.12" r="2.95" fill="#F564E3" fill-opacity="0.8"/>
<circle cx="455.45" cy="277.08" r="2.95" fill="#F564E3" fill-opacity="0.8"/>
<circle cx="482.21" cy="285.62" r="2.95" fill="#F564E3" fill-opacity="0.8"/>
<circle cx="508.97" cy="241.46" r="2.95" fill="#F564E3" fill-opacity="0.8"/>
<circle cx="428.69" cy="257.50" r="2.95" fill="#F8766D" fill-opacity="0.8"/>
<circle cx="455.45" cy="257.08" r="2.95" fill="#F8766D" fill-opacity="0.8"/>
<circle cx="482.21" cy="259.79" r="2.95" fill="#F8766D" fill-opacity="0.8"/>
<circle cx="508.97" cy="257.92" r="2.95" fill="#F8766D" fill-opacity="0.8"/>
<circle cx="428.69" cy="237.08" r="2.95" fill="#619CFF" fill-opacity="0.8"/>
<circle cx="455.45" cy="244.38" r="2.95" fill="#619CFF" fill-opacity="0.8"/>
<circle cx="482.21" cy="244.38" r="2.95" fill="#619CFF" fill-opacity="0.8"/>
<circle cx="508.97" cy="235.83" r="2.95" fill="#619CFF" fill-opacity="0.8"/>
<path d="M428.69 233.12 C437.61 240.45 446.53 272.81 455.45 277.08 C464.37 281.35 473.29 285.62 482.21 285.62 C491.13 285.62 500.05 248.82 508.97 241.46" fill="none" stroke="#F564E3" stroke-opacity="0.95" stroke-width="1.42" stroke-linejoin="round" stroke-linecap="butt"/>
<text transform="translate(434.39,304.30) rotate(-45) scale(1.0000,1.1000)" font-size="11.73" fill="#4D4D4D" text-anchor="end">TP1</text>
<text transform="translate(461.15,304.30) rotate(-45) scale(1.0000,1.1000)" font-size="11.73" fill="#4D4D4D" text-anchor="end">TP2</text>
<text transform="translate(487.91,304.30) rotate(-45) scale(1.0000,1.1000)" font-size="11.73" fill="#4D4D4D" text-anchor="end">TP3</text>
<text transform="translate(514.67,304.30) rotate(-45) scale(1.0000,1.1000)" font-size="11.73" fill="#4D4D4D" text-anchor="end">TP4</text>
</g>
<g>
<line x1="53.44" x2="165.84" y1="330.89" y2="330.89" stroke="#EBEBEB" stroke-width="0.71"/>
<line x1="53.44" x2="165.84" y1="358.33" y2="358.33" stroke="#EBEBEB" stroke-width="0.71"/>
<line x1="53.44" x2="165.84" y1="385.77" y2="385.77" stroke="#EBEBEB" stroke-width="0.71"/>
<line x1="53.44" x2="165.84" y1="413.21" y2="413.21" stroke="#EBEBEB" stroke-width="0.71"/>
<line x1="53.44" x2="165.84" y1="344.61" y2="344.61" stroke="#EBEBEB" stroke-width="1.42"/>
<line x1="53.44" x2="165.84" y1="372.05" y2="372.05" stroke="#EBEBEB" stroke-width="1.42"/>
<line x1="53.44" x2="165.84" y1="399.49" y2="399.49" stroke="#EBEBEB" stroke-width="1.42"/>
<line x1="69.50" x2="69.50" y1="321.25" y2="423.50" stroke="#EBEBEB" stroke-width="1.42"/>
<line x1="96.26" x2="96.26" y1="321.25" y2="423.50" stroke="#EBEBEB" stroke-width="1.42"/>
<line x1="123.02" x2="123.02" y1="321.25" y2="423.50" stroke="#EBEBEB" stroke-width="1.42"/>
<line x1="149.78" x2="149.78" y1="321.25" y2="423.50" stroke="#EBEBEB" stroke-width="1.42"/>
<text transform="translate(109.24,313.95) scale(0.9800,1.0900)" font-size="11.73" fill="#1A1A1A" text-anchor="middle">ACR-244</text>
<path d="M69.50 390.29 C78.42 390.22 87.34 389.88 96.26 389.88 C105.18 389.88 114.10 390.08 123.02 390.08 C131.94 390.08 140.86 388.69 149.78 388.42" fill="none" stroke="#F8766D" stroke-opacity="0.8" stroke-width="1.75" stroke-linejoin="round" stroke-linecap="butt"/>
<path d="M69.50 353.00 C78.42 351.54 87.34 344.25 96.26 344.25 C105.18 344.25 114.10 347.90 123.02 348.62 C131.94 349.35 140.86 352.27 149.78 353.00" fill="none" stroke="#B79F00" stroke-opacity="0.8" stroke-width="1.75" stroke-linejoin="round" stroke-linecap="butt"/>
<path d="M69.50 358.00 C78.42 358.56 87.34 360.95 96.26 361.33 C105.18 361.72 114.10 362.58 123.02 362.58 C131.94 362.58 140.86 358.76 149.78 358.00" fill="none" stroke="#00BA38" stroke-opacity="0.8" stroke-width="1.75" stroke-linejoin="round" stroke-linecap="butt"/>
<path d="M69.50 374.25 C78.42 373.31 87.34 368.62 96.26 368.62 C105.18 368.62 114.10 371.49 123.02 371.96 C131.94 372.43 140.86 373.87 149.78 374.25" fill="none" stroke="#00BFC4" stroke-opacity="0.8" stroke-width="1.75" stroke-linejoin="round" stroke-linecap="butt"/>
<path d="M69.50 370.08 C78.42 370.60 87.34 372.77 96.26 373.21 C105.18 373.64 114.10 375.29 123.02 375.29 C131.94 375.29 140.86 368.69 149.78 367.38" fill="none" stroke="#619CFF" stroke-opacity="0.8" stroke-width="1.75" stroke-linejoin="round" stroke-linecap="butt"/>
<circle cx="69.50" cy="353.00" r="2.95" fill="#B79F00" fill-opacity="0.8"/>
<circle cx="96.26" cy="344.25" r="2.95" fill="#B79F00" fill-opacity="0.8"/>
<circle cx="123.02" cy="348.62" r="2.95" fill="#B79F00" fill-opacity="0.8"/>
<circle cx="149.78" cy="353.00" r="2.95" fill="#B79F00" fill-opacity="0.8"/>
<circle cx="69.50" cy="358.00" r="2.95" fill="#00BA38" fill-opacity="0.8"/>
<circle cx="96.26" cy="361.33" r="2.95" fill="#00BA38" fill-opacity="0.8"/>
<circle cx="123.02" cy="362.58" r="2.95" fill="#00BA38" fill-opacity="0.8"/>
<circle cx="149.78" cy="358.00" r="2.95" fill="#00BA38" fill-opacity="0.8"/>
<circle cx="69.50" cy="374.25" r="2.95" fill="#00BFC4" fill-opacity="0.8"/>
<circle cx="96.26" cy="368.62" r="2.95" fill="#00BFC4" fill-opacity="0.8"/>
<circle cx="123.02" cy="371.96" r="2.95" fill="#00BFC4" fill-opacity="0.8"/>
<circle cx="149.78" cy="374.25" r="2.95" fill="#00BFC4" fill-opacity="0.8"/>
<circle cx="69.50" cy="360.71" r="2.95" fill="#F564E3" fill-opacity="0.8"/>
<circle cx="96.26" cy="399.67" r="2.95" fill="#F564E3" fill-opacity="0.8"/>
<circle cx="123.02" cy="385.50" r="2.95" fill="#F564E3" fill-opacity="0.8"/>
<circle cx="149.78" cy="357.79" r="2.95" fill="#F564E3" fill-opacity="0.8"/>
<circle cx="69.50" cy="390.29" r="2.95" fill="#F8766D" fill-opacity="0.8"/>
<circle cx="96.26" cy="389.88" r="2.95" fill="#F8766D" fill-opacity="0.8"/>
<circle cx="123.02" cy="390.08" r="2.95" fill="#F8766D" fill-opacity="0.8"/>
<circle cx="149.78" cy="388.42" r="2.95" fill="#F8766D" fill-opacity="0.8"/>
<circle cx="69.50" cy="370.08" r="2.95" fill="#619CFF" fill-opacity="0.8"/>
<circle cx="96.26" cy="373.21" r="2.95" fill="#619CFF" fill-opacity="0.8"/>
<circle cx="123.02" cy="375.29" r="2.95" fill="#619CFF" fill-opacity="0.8"/>
<circle cx="149.78" cy="367.38" r="2.95" fill="#619CFF" fill-opacity="0.8"/>
<path d="M69.50 360.71 C78.42 367.20 87.34 399.67 96.26 399.67 C105.18 399.67 114.10 388.99 123.02 385.50 C131.94 382.01 140.86 362.41 149.78 357.79" fill="none" stroke="#F564E3" stroke-opacity="0.95" stroke-width="1.42" stroke-linejoin="round" stroke-linecap="butt"/>
<text transform="translate(46.30,349.21) scale(1.0000,1.1200)" font-size="11.73" fill="#4D4D4D" text-anchor="end">2.5</text>
<text transform="translate(46.30,376.65) scale(1.0000,1.1200)" font-size="11.73" fill="#4D4D4D" text-anchor="end">0.0</text>
<text transform="translate(46.30,404.09) scale(1.0000,1.1200)" font-size="11.73" fill="#4D4D4D" text-anchor="end">-2.5</text>
<text transform="translate(75.20,437.30) rotate(-45) scale(1.0000,1.1000)" font-size="11.73" fill="#4D4D4D" text-anchor="end">TP1</text>
<text transform="translate(101.96,437.30) rotate(-45) scale(1.0000,1.1000)" font-size="11.73" fill="#4D4D4D" text-anchor="end">TP2</text>
<text transform="translate(128.72,437.30) rotate(-45) scale(1.0000,1.1000)" font-size="11.73" fill="#4D4D4D" text-anchor="end">TP3</text>
<text transform="translate(155.48,437.30) rotate(-45) scale(1.0000,1.1000)" font-size="11.73" fill="#4D4D4D" text-anchor="end">TP4</text>
</g>
<g>
<line x1="173.17" x2="285.57" y1="330.89" y2="330.89" stroke="#EBEBEB" stroke-width="0.71"/>
<line x1="173.17" x2="285.57" y1="358.33" y2="358.33" stroke="#EBEBEB" stroke-width="0.71"/>
<line x1="173.17" x2="285.57" y1="385.77" y2="385.77" stroke="#EBEBEB" stroke-width="0.71"/>
<line x1="173.17" x2="285.57" y1="413.21" y2="413.21" stroke="#EBEBEB" stroke-width="0.71"/>
<line x1="173.17" x2="285.57" y1="344.61" y2="344.61" stroke="#EBEBEB" stroke-width="1.42"/>
<line x1="173.17" x2="285.57" y1="372.05" y2="372.05" stroke="#EBEBEB" stroke-width="1.42"/>
<line x1="173.17" x2="285.57" y1="399.49" y2="399.49" stroke="#EBEBEB" stroke-width="1.42"/>
<line x1="189.23" x2="189.23" y1="321.25" y2="423.50" stroke="#EBEBEB" stroke-width="1.42"/>
<line x1="215.99" x2="215.99" y1="321.25" y2="423.50" stroke="#EBEBEB" stroke-width="1.42"/>
<line x1="242.75" x2="242.75" y1="321.25" y2="423.50" stroke="#EBEBEB" stroke-width="1.42"/>
<line x1="269.51" x2="269.51" y1="321.25" y2="423.50" stroke="#EBEBEB" stroke-width="1.42"/>
<text transform="translate(228.97,313.95) scale(0.9800,1.0900)" font-size="11.73" fill="#1A1A1A" text-anchor="middle">ACR-265</text>
<path d="M189.23 391.33 C198.15 391.30 207.07 391.21 215.99 391.12 C224.91 391.04 233.83 390.29 242.75 390.29 C251.67 390.29 260.59 390.99 269.51 391.12" fill="none" stroke="#F8766D" stroke-opacity="0.8" stroke-width="1.75" stroke-linejoin="round" stroke-linecap="butt"/>
<path d="M189.23 353.42 C198.15 352.65 207.07 348.83 215.99 348.83 C224.91 348.83 233.83 349.98 242.75 350.50 C251.67 351.02 260.59 354.32 269.51 355.08" fill="none" stroke="#B79F00" stroke-opacity="0.8" stroke-width="1.75" stroke-linejoin="round" stroke-linecap="butt"/>
<path d="M189.23 356.33 C198.15 356.96 207.07 360.08 215.99 360.08 C224.91 360.08 233.83 359.18 242.75 359.04 C251.67 358.90 260.59 358.52 269.51 358.42" fill="none" stroke="#00BA38" stroke-opacity="0.8" stroke-width="1.75" stroke-linejoin="round" stroke-linecap="butt"/>
<path d="M189.23 367.17 C198.15 366.72 207.07 364.46 215.99 364.46 C224.91 364.46 233.83 367.41 242.75 367.79 C251.67 368.17 260.59 368.83 269.51 369.04" fill="none" stroke="#00BFC4" stroke-opacity="0.8" stroke-width="1.75" stroke-linejoin="round" stroke-linecap="butt"/>
<path d="M189.23 366.12 C198.15 367.27 207.07 372.48 215.99 373.00 C224.91 373.52 233.83 374.04 242.75 374.04 C251.67 374.04 260.59 368.83 269.51 367.79" fill="none" stroke="#619CFF" stroke-opacity="0.8" stroke-width="1.75" stroke-linejoin="round" stroke-linecap="butt"/>
<circle cx="189.23" cy="353.42" r="2.95" fill="#B79F00" fill-opacity="0.8"/>
<circle cx="215.99" cy="348.83" r="2.95" fill="#B79F00" fill-opacity="0.8"/>
<circle cx="242.75" cy="350.50" r="2.95" fill="#B79F00" fill-opacity="0.8"/>
<circle cx="269.51" cy="355.08" r="2.95" fill="#B79F00" fill-opacity="0.8"/>
<circle cx="189.23" cy="356.33" r="2.95" fill="#00BA38" fill-opacity="0.8"/>
<circle cx="215.99" cy="360.08" r="2.95" fill="#00BA38" fill-opacity="0.8"/>
<circle cx="242.75" cy="359.04" r="2.95" fill="#00BA38" fill-opacity="0.8"/>
<circle cx="269.51" cy="358.42" r="2.95" fill="#00BA38" fill-opacity="0.8"/>
<circle cx="189.23" cy="367.17" r="2.95" fill="#00BFC4" fill-opacity="0.8"/>
<circle cx="215.99" cy="364.46" r="2.95" fill="#00BFC4" fill-opacity="0.8"/>
<circle cx="242.75" cy="367.79" r="2.95" fill="#00BFC4" fill-opacity="0.8"/>
<circle cx="269.51" cy="369.04" r="2.95" fill="#00BFC4" fill-opacity="0.8"/>
<circle cx="189.23" cy="325.92" r="2.95" fill="#F564E3" fill-opacity="0.8"/>
<circle cx="215.99" cy="365.50" r="2.95" fill="#F564E3" fill-opacity="0.8"/>
<circle cx="242.75" cy="351.12" r="2.95" fill="#F564E3" fill-opacity="0.8"/>
<circle cx="269.51" cy="332.17" r="2.95" fill="#F564E3" fill-opacity="0.8"/>
<circle cx="189.23" cy="391.33" r="2.95" fill="#F8766D" fill-opacity="0.8"/>
<circle cx="215.99" cy="391.12" r="2.95" fill="#F8766D" fill-opacity="0.8"/>
<circle cx="242.75" cy="390.29" r="2.95" fill="#F8766D" fill-opacity="0.8"/>
<circle cx="269.51" cy="391.12" r="2.95" fill="#F8766D" fill-opacity="0.8"/>
<circle cx="189.23" cy="366.12" r="2.95" fill="#619CFF" fill-opacity="0.8"/>
<circle cx="215.99" cy="373.00" r="2.95" fill="#619CFF" fill-opacity="0.8"/>
<circle cx="242.75" cy="374.04" r="2.95" fill="#619CFF" fill-opacity="0.8"/>
<circle cx="269.51" cy="367.79" r="2.95" fill="#619CFF" fill-opacity="0.8"/>
<path d="M189.23 325.92 C198.15 332.51 207.07 365.50 215.99 365.50 C224.91 365.50 233.83 353.90 242.75 351.12 C251.67 348.35 260.59 335.33 269.51 332.17" fill="none" stroke="#F564E3" stroke-opacity="0.95" stroke-width="1.42" stroke-linejoin="round" stroke-linecap="butt"/>
<text transform="translate(194.93,437.30) rotate(-45) scale(1.0000,1.1000)" font-size="11.73" fill="#4D4D4D" text-anchor="end">TP1</text>
<text transform="translate(221.69,437.30) rotate(-45) scale(1.0000,1.1000)" font-size="11.73" fill="#4D4D4D" text-anchor="end">TP2</text>
<text transform="translate(248.45,437.30) rotate(-45) scale(1.0000,1.1000)" font-size="11.73" fill="#4D4D4D" text-anchor="end">TP3</text>
<text transform="translate(275.21,437.30) rotate(-45) scale(1.0000,1.1000)" font-size="11.73" fill="#4D4D4D" text-anchor="end">TP4</text>
</g>
<text transform="translate(289.35,468.70) scale(0.9800,1.0400)" font-size="14.67" fill="#000" text-anchor="middle">Timepoint</text>
<text transform="translate(18.40,239.35) rotate(-90) scale(0.9780,1.0500)" font-size="14.67" fill="#000" text-anchor="middle">Expression</text>
<text transform="translate(547.30,171.80) scale(0.9700,1.0500)" font-size="14.67" fill="#000" text-anchor="start">Gene</text>
<line x1="549.3" x2="567.7" y1="192.90" y2="192.90" stroke="#F8766D" stroke-opacity="0.8" stroke-width="1.6"/>
<circle cx="558.5" cy="192.90" r="2.8" fill="#F8766D" fill-opacity="0.8"/>
<text transform="translate(577.50,197.30) scale(1.0380,1.1000)" font-size="11.73" fill="#000" text-anchor="start">Cluster_12081</text>
<line x1="549.3" x2="567.7" y1="215.94" y2="215.94" stroke="#B79F00" stroke-opacity="0.8" stroke-width="1.6"/>
<circle cx="558.5" cy="215.94" r="2.8" fill="#B79F00" fill-opacity="0.8"/>
<text transform="translate(577.50,220.34) scale(1.0380,1.1000)" font-size="11.73" fill="#000" text-anchor="start">Cluster_16354</text>
<line x1="549.3" x2="567.7" y1="238.98" y2="238.98" stroke="#00BA38" stroke-opacity="0.8" stroke-width="1.6"/>
<circle cx="558.5" cy="238.98" r="2.8" fill="#00BA38" fill-opacity="0.8"/>
<text transform="translate(577.50,243.38) scale(1.0380,1.1000)" font-size="11.73" fill="#000" text-anchor="start">Cluster_17173</text>
<line x1="549.3" x2="567.7" y1="262.02" y2="262.02" stroke="#00BFC4" stroke-opacity="0.8" stroke-width="1.6"/>
<circle cx="558.5" cy="262.02" r="2.8" fill="#00BFC4" fill-opacity="0.8"/>
<text transform="translate(577.50,266.42) scale(1.0270,1.1000)" font-size="11.73" fill="#000" text-anchor="start">Cluster_3301</text>
<line x1="549.3" x2="567.7" y1="285.06" y2="285.06" stroke="#619CFF" stroke-opacity="0.8" stroke-width="1.6"/>
<circle cx="558.5" cy="285.06" r="2.8" fill="#619CFF" fill-opacity="0.8"/>
<text transform="translate(577.50,289.46) scale(1.0270,1.1000)" font-size="11.73" fill="#000" text-anchor="start">FUN_008515</text>
<line x1="549.3" x2="567.7" y1="308.10" y2="308.10" stroke="#F564E3" stroke-opacity="0.8" stroke-width="1.6"/>
<circle cx="558.5" cy="308.10" r="2.8" fill="#F564E3" fill-opacity="0.8"/>
<text transform="translate(577.50,312.50) scale(0.9950,1.1000)" font-size="11.73" fill="#000" text-anchor="start">lncRNA_PC1</text>
</svg>
</body></html>
